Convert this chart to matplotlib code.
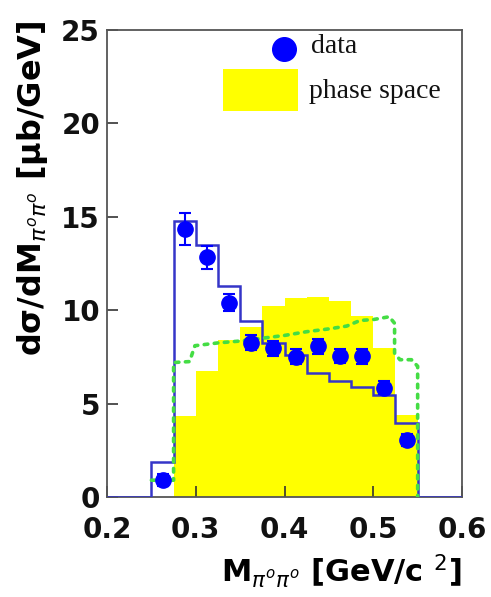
import matplotlib
matplotlib.use("Agg")
import matplotlib.pyplot as plt
import numpy as np

# ---- data ----
bin_edges = [0.25, 0.275, 0.30, 0.325, 0.35, 0.375, 0.40, 0.425, 0.45, 0.475, 0.50, 0.525, 0.55]
model_hist = [1.9, 14.75, 13.5, 11.3, 9.4, 8.22, 7.6, 6.62, 6.2, 5.88, 5.46, 3.94]
phase_space = [0.0, 4.35, 6.75, 8.4, 9.1, 10.2, 10.64, 10.72, 10.5, 9.7, 8.0, 4.4]
data_x = [0.2625, 0.2875, 0.3125, 0.3375, 0.3625, 0.3875, 0.4125, 0.4375, 0.4625, 0.4875, 0.5125, 0.5375]
data_y = [0.91, 14.33, 12.83, 10.4, 8.27, 7.96, 7.51, 8.06, 7.55, 7.53, 5.84, 3.05]
data_err = [0.3, 0.85, 0.6, 0.45, 0.4, 0.4, 0.4, 0.4, 0.4, 0.4, 0.35, 0.3]
green_x = [0.25, 0.275, 0.275, 0.293, 0.299, 0.325, 0.35, 0.375, 0.40, 0.425, 0.45, 0.47, 0.485,
           0.50, 0.518, 0.524, 0.524, 0.53, 0.543, 0.55, 0.55]
green_y = [0.9, 0.9, 7.2, 7.25, 8.1, 8.25, 8.35, 8.5, 8.65, 8.85, 9.0, 9.15, 9.45,
           9.5, 9.65, 9.3, 7.7, 7.35, 7.35, 7.0, 0.0]
x_ticks = [0.2, 0.3, 0.4, 0.5, 0.6]
y_ticks = [0, 5, 10, 15, 20, 25]

fig = plt.figure(figsize=(4.91, 5.97), dpi=100)
ax = fig.add_axes([0.218, 0.1675, 0.723, 0.7822])

edges = np.array(bin_edges)
# phase space (yellow filled histogram)
ax.stairs(phase_space, edges, fill=True, color="#ffff00", zorder=1)

# model histogram (blue line), extended with zero to the axis ends
full_edges = np.concatenate([[0.2], edges, [0.6]])
full_vals = np.concatenate([[0.0], model_hist, [0.0]])
ax.stairs(full_vals, full_edges, color="#3535c8", linewidth=1.8, zorder=3, baseline=None)

# green dotted curve
ax.plot(green_x, green_y, color="#44dd44", linestyle=(0, (1, 1.8)), linewidth=2.6,
        dash_capstyle="round", zorder=4)

# data points
ax.errorbar(data_x, data_y, yerr=data_err, fmt="o", color="#0000ff", markersize=11,
            elinewidth=1.5, capsize=4, capthick=1.5, zorder=5)

ax.set_xlim(0.2, 0.6)
ax.set_ylim(0, 25)
ax.set_xticks(x_ticks)
ax.set_yticks(y_ticks)
ax.set_xticklabels(["0.2", "0.3", "0.4", "0.5", "0.6"])
ax.set_yticklabels([str(v) for v in y_ticks])
ax.tick_params(direction="in", length=8, width=1.2, colors="#333333",
               labelcolor="#111111", labelsize=20, pad=5)
ax.tick_params(axis="x", pad=14)
for lab in ax.get_xticklabels() + ax.get_yticklabels():
    lab.set_fontweight("bold")
    lab.set_family("DejaVu Sans")
for s in ax.spines.values():
    s.set_color("#555555")
    s.set_linewidth(1.3)

ax.set_ylabel(r"dσ/dM$_{\pi^{o}\pi^{o}}$ [μb/GeV]", fontsize=23, fontweight="bold",
              family="DejaVu Sans", loc="top")
ax.yaxis.set_label_coords(-0.16, 1.02)
ax.set_xlabel(r"M$_{\pi^{o}\pi^{o}}$ [GeV/c $^{2}$]", fontsize=22, fontweight="bold",
              family="DejaVu Sans", loc="right", labelpad=6)

# legend (manual)
ax.plot([0.4986], [0.959], "o", color="#0000ff", markersize=17, transform=ax.transAxes,
        clip_on=False, zorder=6)
ax.text(0.575, 0.965, "data", transform=ax.transAxes, fontsize=20, family="Liberation Serif",
        va="center", ha="left", color="#111111")
ax.add_patch(plt.Rectangle((0.327, 0.826), 0.211, 0.090, transform=ax.transAxes,
                           facecolor="#ffff00", edgecolor="none", zorder=6))
ax.text(0.569, 0.868, "phase space", transform=ax.transAxes, fontsize=20,
        family="Liberation Serif", va="center", ha="left", color="#111111")

fig.savefig("out.png", dpi=100)
